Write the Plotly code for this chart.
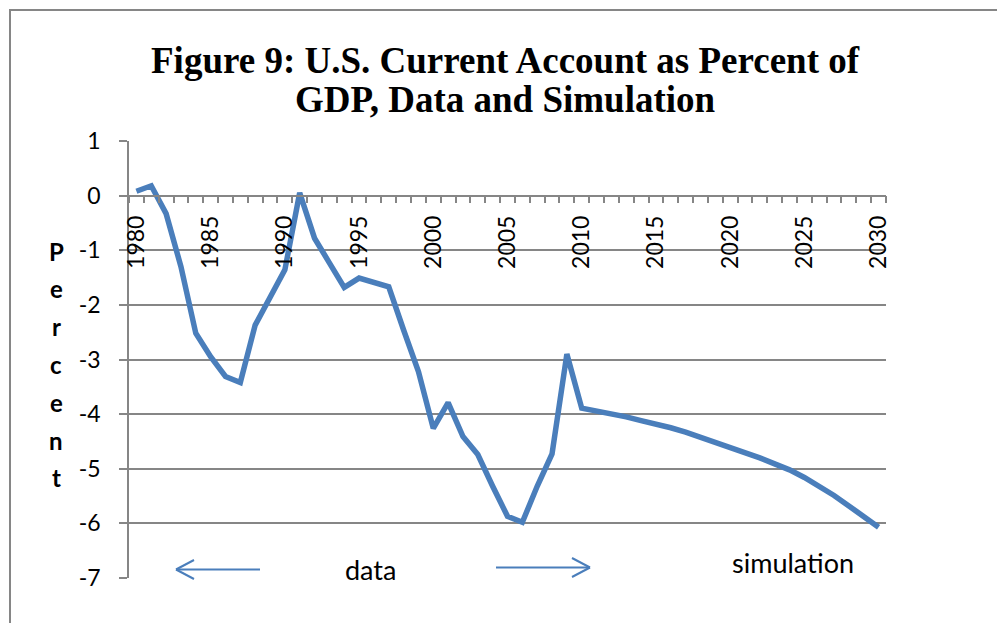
import plotly.graph_objects as go

# ---- data ----
years = list(range(1980, 2031))
current_account = [
    0.08, 0.18, -0.33, -1.30, -2.52, -2.95, -3.31, -3.42, -2.37, -1.88,   # 1980-1989
    -1.36, 0.05, -0.78, -1.23, -1.68, -1.51, -1.58, -1.67, -2.46, -3.22,  # 1990-1999
    -4.26, -3.79, -4.41, -4.74, -5.32, -5.87, -5.98, -5.32, -4.73, -2.90, # 2000-2009
    -3.89, -3.94, -3.99, -4.05, -4.12, -4.18, -4.25, -4.33, -4.42, -4.51, # 2010-2019
    -4.60, -4.70, -4.80, -4.91, -5.02, -5.16, -5.32, -5.49, -5.68, -5.87, # 2020-2029
    -6.07,                                                                # 2030
]
x_tick_values = list(range(1980, 2031, 5))
x_tick_labels = [str(v) for v in x_tick_values]
y_tick_values = list(range(-7, 2))
y_tick_labels = [str(v) for v in y_tick_values]  # plain hyphen-minus, as in the source
title_line1 = "Figure 9: U.S. Current Account as Percent of"
title_line2 = "GDP, Data and Simulation"
y_title = "Percent"
label_data = "data"
label_sim = "simulation"

# ---- layout geometry (pixels) ----
W_FIG, H_FIG = 997, 623
L, R, T, B = 129, 886, 141, 578
PW, PH = R - L, B - T

def px(x):
    return (x - L) / PW

def py(y):
    return (B - y) / PH

GRID = "#868686"
BLUE = "#4A7EBB"
SANS = "Lato, 'Open Sans', sans-serif"
SERIF = "'Liberation Serif', 'Times New Roman', serif"

fig = go.Figure()
fig.add_trace(go.Scatter(
    x=years, y=current_account, mode="lines",
    line=dict(color=BLUE, width=5.5),
    showlegend=False, hoverinfo="x+y",
))

annotations = [
    dict(text=title_line1, x=px(505), y=py(60), xref="paper", yref="paper",
         showarrow=False, xanchor="center", yanchor="middle",
         font=dict(family=SERIF, size=37, color="black", weight="bold")),
    dict(text=title_line2, x=px(505), y=py(99), xref="paper", yref="paper",
         showarrow=False, xanchor="center", yanchor="middle",
         font=dict(family=SERIF, size=37, color="black", weight="bold")),
    dict(text=label_data, x=px(370), y=py(569), xref="paper", yref="paper",
         showarrow=False, xanchor="center", yanchor="middle",
         font=dict(family=SANS, size=27, color="black")),
    dict(text=label_sim, x=px(793), y=py(562), xref="paper", yref="paper",
         showarrow=False, xanchor="center", yanchor="middle",
         font=dict(family=SANS, size=27, color="black")),
]
for i, ch in enumerate(y_title):
    annotations.append(dict(
        text=ch, x=px(56), y=py(251 + 37.8 * i), xref="paper", yref="paper",
        showarrow=False, xanchor="center", yanchor="middle",
        font=dict(family=SANS, size=24, color="black", weight="bold")))

def seg(x0, y0, x1, y1, color=BLUE, width=2):
    return dict(type="line", xref="paper", yref="paper",
                x0=px(x0), y0=py(y0), x1=px(x1), y1=py(y1),
                line=dict(color=color, width=width))

shapes = [
    # outer chart border
    dict(type="rect", xref="paper", yref="paper",
         x0=px(10), y0=py(10), x1=px(1010), y1=py(640),
         line=dict(color=GRID, width=2), fillcolor="rgba(0,0,0,0)", layer="below"),
    # left arrow
    seg(176, 569.5, 260, 569.5),
    seg(176, 569.5, 194, 560),
    seg(176, 569.5, 194, 579),
    # right arrow
    seg(496, 567.5, 590, 567.5),
    seg(590, 567.5, 572, 558),
    seg(590, 567.5, 572, 577),
]

fig.update_layout(
    width=W_FIG, height=H_FIG,
    margin=dict(l=L, r=W_FIG - R, t=T, b=H_FIG - B, pad=0),
    paper_bgcolor="white", plot_bgcolor="white",
    annotations=annotations, shapes=shapes,
    xaxis=dict(
        range=[1979.5, 2030.5], anchor="free", position=7 / 8,
        showline=True, linecolor=GRID, linewidth=1.5,
        showgrid=False, zeroline=False,
        tickmode="array", tickvals=x_tick_values, ticktext=x_tick_labels,
        ticks="outside", ticklen=7, tickcolor="rgba(0,0,0,0)",
        tickangle=-90, ticklabelstandoff=3,
        tickfont=dict(family=SANS, size=23, color="black"),
        minor=dict(ticks="outside", tick0=1979.5, dtick=1, ticklen=7,
                   tickcolor=GRID, tickwidth=1.5, showgrid=False),
    ),
    yaxis=dict(
        range=[-7, 1], tickmode="array", tickvals=y_tick_values, ticktext=y_tick_labels,
        showgrid=True, gridcolor=GRID, gridwidth=1.5,
        showline=True, linecolor=GRID, linewidth=1.5,
        zeroline=False,
        ticks="outside", ticklen=8, tickcolor=GRID, tickwidth=1.5,
        ticklabelstandoff=14,
        tickfont=dict(family=SANS, size=23, color="black"),
    ),
)

fig.write_html("out.html", config={"displayModeBar": False},
               post_script="document.body.style.margin='0';")
